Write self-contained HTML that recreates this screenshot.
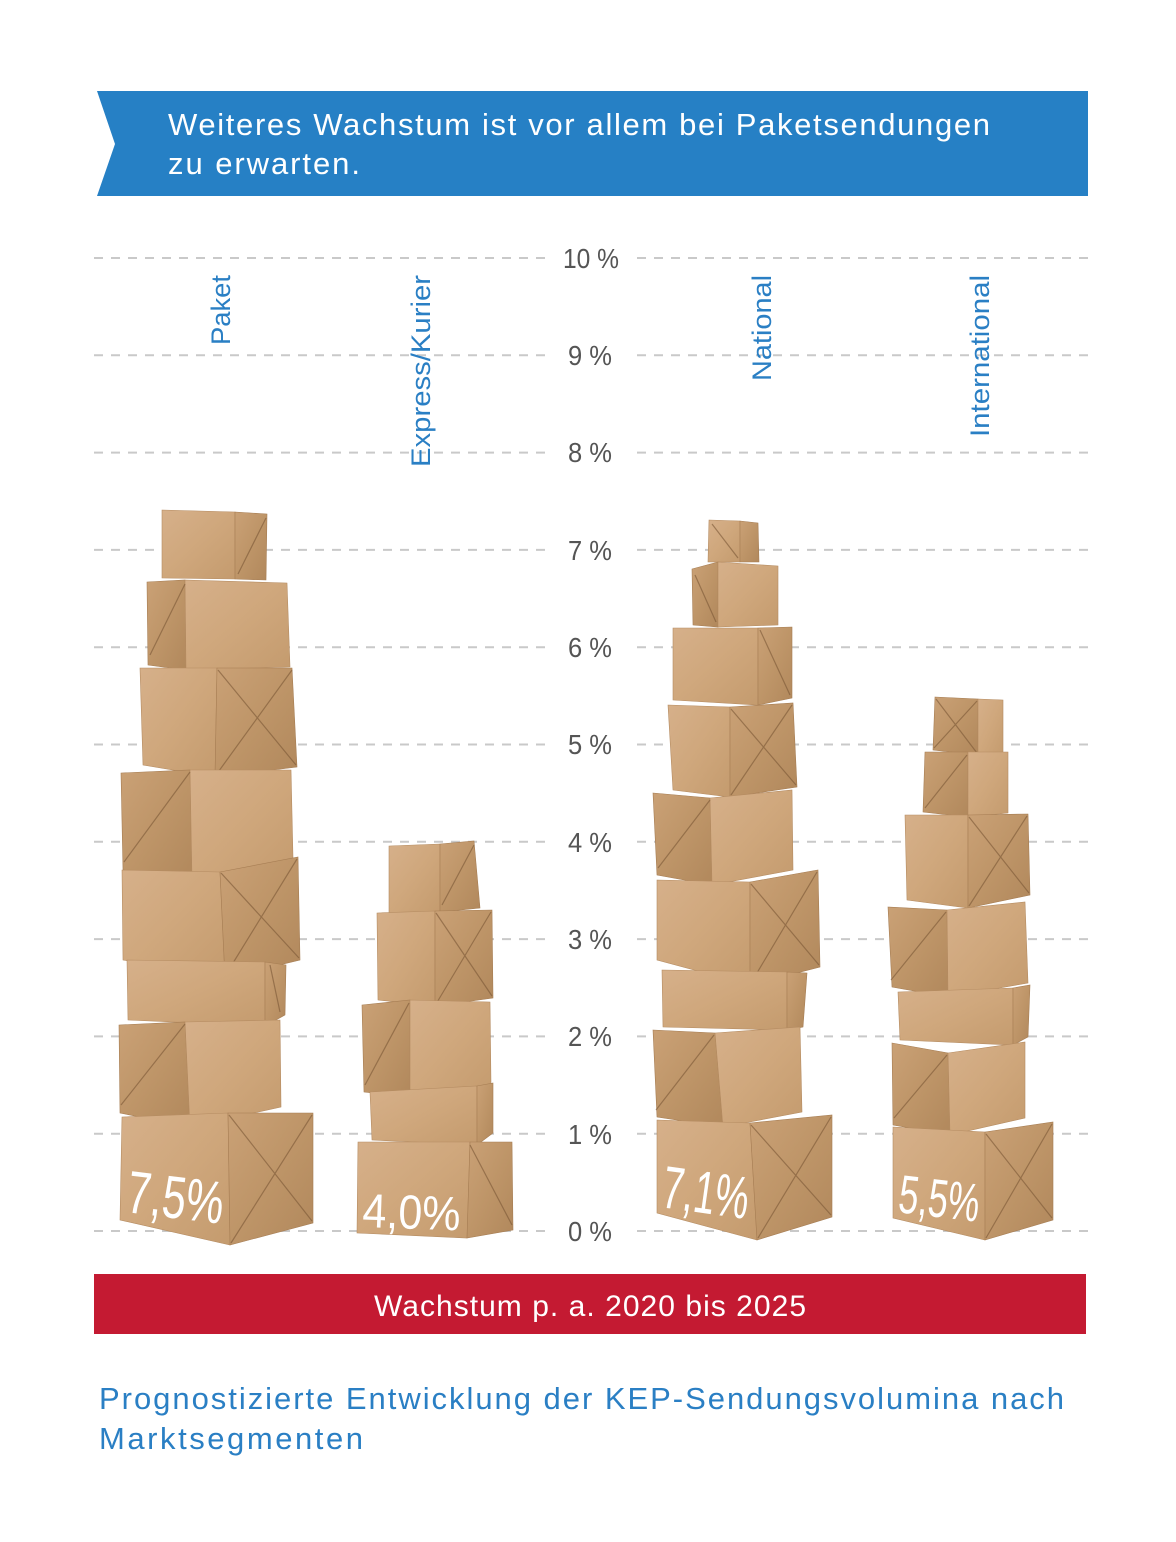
<!DOCTYPE html>
<html>
<head>
<meta charset="utf-8">
<style>
html,body{margin:0;padding:0;background:#fff;}
svg{display:block;}
text{font-family:"Liberation Sans","DejaVu Sans",sans-serif;}
.g{stroke:#c9c9c9;stroke-width:2;stroke-dasharray:9 8;fill:none;}
.ax{fill:#555;font-size:28px;text-anchor:middle;}
.cat{fill:#2a7fc4;font-size:27px;text-anchor:end;}
.a{fill:url(#fa);stroke:#b58c62;stroke-width:0.6;}
.b{fill:url(#fb);stroke:#a67d53;stroke-width:0.6;}
.f{fill:none;stroke:#7a5636;stroke-width:1.2;stroke-opacity:0.6;}
.v{fill:#fff;}
</style>
</head>
<body>
<svg width="1176" height="1542" viewBox="0 0 1176 1542" xmlns="http://www.w3.org/2000/svg">
<defs>
<linearGradient id="fa" x1="0" y1="0" x2="1" y2="1">
<stop offset="0" stop-color="#d6b08a"/>
<stop offset="0.5" stop-color="#cfa77c"/>
<stop offset="1" stop-color="#c49b6e"/>
</linearGradient>
<linearGradient id="fb" x1="0" y1="0" x2="1" y2="1">
<stop offset="0" stop-color="#caa176"/>
<stop offset="0.5" stop-color="#be9568"/>
<stop offset="1" stop-color="#b1885c"/>
</linearGradient>
</defs>
<rect width="1176" height="1542" fill="#fff"/>

<!-- header -->
<polygon points="97,91 1088,91 1088,196 97,196 115,144" fill="#2680c5"/>
<text x="168" y="135" fill="#fff" font-size="31" textLength="822" lengthAdjust="spacing">Weiteres Wachstum ist vor allem bei Paketsendungen</text>
<text x="168" y="174" fill="#fff" font-size="31" textLength="192" lengthAdjust="spacing">zu erwarten.</text>

<!-- grid -->
<g>
<line class="g" x1="94" y1="258" x2="545" y2="258"/><line class="g" x1="637" y1="258" x2="1090" y2="258"/>
<line class="g" x1="94" y1="355.3" x2="545" y2="355.3"/><line class="g" x1="637" y1="355.3" x2="1090" y2="355.3"/>
<line class="g" x1="94" y1="452.6" x2="545" y2="452.6"/><line class="g" x1="637" y1="452.6" x2="1090" y2="452.6"/>
<line class="g" x1="94" y1="549.9" x2="545" y2="549.9"/><line class="g" x1="637" y1="549.9" x2="1090" y2="549.9"/>
<line class="g" x1="94" y1="647.2" x2="545" y2="647.2"/><line class="g" x1="637" y1="647.2" x2="1090" y2="647.2"/>
<line class="g" x1="94" y1="744.5" x2="545" y2="744.5"/><line class="g" x1="637" y1="744.5" x2="1090" y2="744.5"/>
<line class="g" x1="94" y1="841.8" x2="545" y2="841.8"/><line class="g" x1="637" y1="841.8" x2="1090" y2="841.8"/>
<line class="g" x1="94" y1="939.1" x2="545" y2="939.1"/><line class="g" x1="637" y1="939.1" x2="1090" y2="939.1"/>
<line class="g" x1="94" y1="1036.4" x2="545" y2="1036.4"/><line class="g" x1="637" y1="1036.4" x2="1090" y2="1036.4"/>
<line class="g" x1="94" y1="1133.7" x2="545" y2="1133.7"/><line class="g" x1="637" y1="1133.7" x2="1090" y2="1133.7"/>
<line class="g" x1="94" y1="1231" x2="545" y2="1231"/><line class="g" x1="637" y1="1231" x2="1090" y2="1231"/>
</g>

<!-- axis labels -->
<text class="ax" x="591" y="268" textLength="56" lengthAdjust="spacingAndGlyphs">10 %</text>
<text class="ax" x="590" y="365" textLength="44" lengthAdjust="spacingAndGlyphs">9 %</text>
<text class="ax" x="590" y="462" textLength="44" lengthAdjust="spacingAndGlyphs">8 %</text>
<text class="ax" x="590" y="560" textLength="44" lengthAdjust="spacingAndGlyphs">7 %</text>
<text class="ax" x="590" y="657" textLength="44" lengthAdjust="spacingAndGlyphs">6 %</text>
<text class="ax" x="590" y="754" textLength="44" lengthAdjust="spacingAndGlyphs">5 %</text>
<text class="ax" x="590" y="852" textLength="44" lengthAdjust="spacingAndGlyphs">4 %</text>
<text class="ax" x="590" y="949" textLength="44" lengthAdjust="spacingAndGlyphs">3 %</text>
<text class="ax" x="590" y="1046" textLength="44" lengthAdjust="spacingAndGlyphs">2 %</text>
<text class="ax" x="590" y="1144" textLength="44" lengthAdjust="spacingAndGlyphs">1 %</text>
<text class="ax" x="590" y="1241" textLength="44" lengthAdjust="spacingAndGlyphs">0 %</text>

<!-- category labels -->
<text class="cat" transform="translate(230,275) rotate(-90)" textLength="70" lengthAdjust="spacingAndGlyphs">Paket</text>
<text class="cat" transform="translate(430,275) rotate(-90)" textLength="192" lengthAdjust="spacingAndGlyphs">Express/Kurier</text>
<text class="cat" transform="translate(771,275) rotate(-90)" textLength="106" lengthAdjust="spacingAndGlyphs">National</text>
<text class="cat" transform="translate(989,275) rotate(-90)" textLength="162" lengthAdjust="spacingAndGlyphs">International</text>

<!-- Paket stack -->
<g>
<polygon class="a" points="162,510 235,512 235,579 162,578"/>
<polygon class="b" points="235,512 267,514 266,580 235,579"/>
<path class="f" d="M266,518 L238,574"/>

<polygon class="b" points="147,582 185,580 186,670 148,665"/>
<polygon class="a" points="185,580 287,583 290,667 186,670"/>
<path class="f" d="M185,584 L150,655"/>

<polygon class="a" points="140,668 217,668 215,777 143,765"/>
<polygon class="b" points="217,668 292,668 297,767 215,777"/>
<path class="f" d="M218,670 L296,765 M292,670 L216,775"/>

<polygon class="b" points="121,773 190,770 192,880 123,870"/>
<polygon class="a" points="190,770 291,770 293,858 192,880"/>
<path class="f" d="M190,772 L124,862"/>

<polygon class="a" points="122,870 220,872 225,978 123,960"/>
<polygon class="b" points="220,872 298,857 300,960 225,978"/>
<path class="f" d="M221,873 L299,958 M297,859 L225,976"/>

<polygon class="a" points="127,960 265,962 265,1026 128,1020"/>
<polygon class="b" points="265,962 286,965 285,1015 265,1026"/>
<path class="f" d="M270,965 L280,1012"/>

<polygon class="b" points="119,1025 185,1022 190,1127 120,1113"/>
<polygon class="a" points="185,1022 280,1020 281,1107 190,1127"/>
<path class="f" d="M185,1024 L121,1105"/>

<polygon class="a" points="122,1117 228,1113 230,1245 120,1220"/>
<polygon class="b" points="228,1113 313,1113 313,1223 230,1245"/>
<path class="f" d="M229,1115 L312,1221 M312,1115 L231,1243"/>
</g>

<!-- Express stack -->
<g>
<polygon class="a" points="389,846 440,844 440,912 389,913"/>
<polygon class="b" points="440,844 474,841 480,908 440,912"/>
<path class="f" d="M474,845 L442,905"/>

<polygon class="a" points="377,913 435,911 435,1006 378,1000"/>
<polygon class="b" points="435,911 492,910 493,998 435,1006"/>
<path class="f" d="M436,913 L492,996 M491,912 L436,1004"/>

<polygon class="b" points="362,1005 410,1000 410,1097 364,1092"/>
<polygon class="a" points="410,1000 490,1002 491,1085 410,1097"/>
<path class="f" d="M409,1003 L365,1085"/>

<polygon class="a" points="370,1092 477,1086 477,1145 372,1140"/>
<polygon class="b" points="477,1086 493,1083 493,1133 477,1145"/>

<polygon class="a" points="358,1142 470,1142 467,1238 357,1233"/>
<polygon class="b" points="470,1142 512,1142 513,1230 467,1238"/>
<path class="f" d="M470,1145 L512,1225"/>
</g>

<!-- National stack -->
<g>
<polygon class="a" points="709,520 740,521 740,562 708,562"/>
<polygon class="b" points="740,521 758,523 759,562 740,562"/>
<path class="f" d="M712,524 L738,558"/>

<polygon class="b" points="692,569 718,562 718,627 693,625"/>
<polygon class="a" points="718,562 778,566 778,625 718,627"/>
<path class="f" d="M695,575 L716,622"/>

<polygon class="a" points="673,628 758,628 758,705 673,700"/>
<polygon class="b" points="758,628 792,627 792,698 758,705"/>
<path class="f" d="M760,630 L790,695"/>

<polygon class="a" points="668,705 730,707 730,797 673,790"/>
<polygon class="b" points="730,707 793,703 797,787 730,797"/>
<path class="f" d="M731,709 L796,785 M792,705 L731,795"/>

<polygon class="b" points="653,793 710,798 712,885 657,875"/>
<polygon class="a" points="710,798 792,790 793,870 712,885"/>
<path class="f" d="M710,800 L658,868"/>

<polygon class="a" points="657,880 750,882 750,985 657,960"/>
<polygon class="b" points="750,882 818,870 820,967 750,985"/>
<path class="f" d="M751,884 L819,965 M817,872 L751,983"/>

<polygon class="a" points="662,970 787,972 787,1030 663,1027"/>
<polygon class="b" points="787,972 807,973 803,1027 787,1030"/>

<polygon class="b" points="653,1030 715,1033 723,1127 657,1117"/>
<polygon class="a" points="715,1033 800,1027 802,1112 723,1127"/>
<path class="f" d="M714,1035 L656,1110"/>

<polygon class="a" points="657,1120 750,1123 757,1240 657,1213"/>
<polygon class="b" points="750,1123 832,1115 832,1217 757,1240"/>
<path class="f" d="M751,1125 L831,1215 M831,1117 L758,1238"/>
</g>

<!-- International stack -->
<g>
<polygon class="b" points="935,697 978,699 978,755 933,750"/>
<polygon class="a" points="978,699 1003,700 1003,752 978,755"/>
<path class="f" d="M936,699 L977,753 M977,701 L934,748"/>

<polygon class="b" points="925,752 968,752 968,817 923,812"/>
<polygon class="a" points="968,752 1008,752 1008,813 968,817"/>
<path class="f" d="M967,755 L925,808"/>

<polygon class="a" points="905,815 968,815 968,908 907,900"/>
<polygon class="b" points="968,815 1028,814 1030,895 968,908"/>
<path class="f" d="M969,817 L1029,893 M1027,816 L969,906"/>

<polygon class="b" points="888,907 947,910 948,997 892,987"/>
<polygon class="a" points="947,910 1025,902 1028,983 948,997"/>
<path class="f" d="M946,912 L891,980"/>

<polygon class="a" points="898,992 1013,988 1013,1045 900,1040"/>
<polygon class="b" points="1013,988 1030,985 1028,1037 1013,1045"/>

<polygon class="b" points="892,1043 948,1053 950,1135 893,1125"/>
<polygon class="a" points="948,1053 1025,1042 1025,1118 950,1135"/>
<path class="f" d="M947,1055 L894,1118"/>

<polygon class="a" points="893,1127 985,1132 985,1240 893,1218"/>
<polygon class="b" points="985,1132 1053,1122 1053,1220 985,1240"/>
<path class="f" d="M986,1134 L1052,1218 M1052,1124 L986,1238"/>
</g>

<!-- values -->
<text class="v" transform="translate(125,1212) rotate(7)" font-size="60" textLength="97" lengthAdjust="spacingAndGlyphs">7,5%</text>
<text class="v" transform="translate(362,1227) rotate(2)" font-size="48" textLength="98" lengthAdjust="spacingAndGlyphs">4,0%</text>
<text class="v" transform="translate(660,1207) rotate(8)" font-size="60" textLength="87" lengthAdjust="spacingAndGlyphs">7,1%</text>
<text class="v" transform="translate(897,1212) rotate(7)" font-size="54" textLength="81" lengthAdjust="spacingAndGlyphs">5,5%</text>

<!-- red bar -->
<rect x="94" y="1274" width="992" height="60" fill="#c41a32"/>
<text x="590" y="1316" fill="#fff" font-size="30" text-anchor="middle" textLength="432" lengthAdjust="spacing">Wachstum p. a. 2020 bis 2025</text>

<!-- caption -->
<text x="99" y="1409" fill="#2a7fc4" font-size="31" textLength="965" lengthAdjust="spacing">Prognostizierte Entwicklung der KEP-Sendungsvolumina nach</text>
<text x="99" y="1449" fill="#2a7fc4" font-size="31" textLength="264" lengthAdjust="spacing">Marktsegmenten</text>
</svg>
</body>
</html>
